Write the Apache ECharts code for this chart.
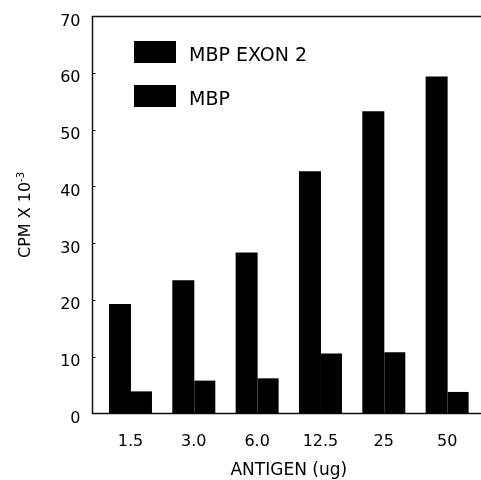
<!DOCTYPE html>
<html><head><meta charset="utf-8">
<script src="https://cdn.jsdelivr.net/npm/echarts@6/dist/echarts.min.js"></script>
<style>html,body{margin:0;padding:0;background:#fff}#c{width:481px;height:480px}</style>
</head><body><div id="c"></div>
<script>
const categories = ['1.5', '3.0', '6.0', '12.5', '25', '50'];
const mbpExon2 = [19.3, 23.5, 28.4, 42.7, 53.3, 59.4];
const mbp = [3.9, 5.8, 6.2, 10.6, 10.8, 3.8];
const yTicks = [0, 10, 20, 30, 40, 50, 60, 70];

const font = 'DejaVu Sans, Liberation Sans, sans-serif';
const chart = echarts.init(document.getElementById('c'), null, {renderer: 'canvas'});
chart.setOption({
  animation: false,
  backgroundColor: '#fff',
  textStyle: {fontFamily: font, color: '#000'},
  grid: [
    {left: 92.5, top: 16.5, width: 395, bottom: 66.5, show: true, borderColor: '#111', borderWidth: 1.5,
     backgroundColor: 'transparent', outerBoundsMode: 'none', containLabel: false},
    {left: 98.8, top: 16.5, width: 380, bottom: 66.5, outerBoundsMode: 'none', containLabel: false}
  ],
  xAxis: [
    {gridIndex: 0, type: 'value', min: 0, max: 1, show: false},
    {gridIndex: 1, type: 'category', data: categories,
     axisLine: {show: false}, axisTick: {show: false},
     axisLabel: {fontSize: 16, color: '#000', margin: 20, fontFamily: font},
     name: 'ANTIGEN (ug)', nameLocation: 'middle', nameGap: 49,
     nameTextStyle: {fontSize: 17, color: '#000', fontFamily: font}}
  ],
  yAxis: [
    {gridIndex: 0, type: 'value', min: 0, max: 70, interval: 10,
     axisLine: {show: false},
     axisTick: {show: true, inside: true, length: 3, lineStyle: {color: '#111', width: 1}},
     splitLine: {show: false},
     axisLabel: {color: '#000', margin: 12, fontFamily: font,
       formatter: v => yTicks.includes(v) ? '{t|' + v + '}' : '',
       rich: {t: {fontSize: 16, color: '#000', fontFamily: font, padding: [10, 0, 0, 0]}}},
     name: '{a|CPM X 10}{s|-3}', nameLocation: 'middle', nameGap: 58,
     nameTextStyle: {fontFamily: font,
       rich: {a: {fontSize: 16, color: '#000', fontFamily: font},
              s: {fontSize: 10, color: '#000', fontFamily: font, verticalAlign: 'top', padding: [0, 0, 8, 0]}}}},
    {gridIndex: 1, type: 'value', min: 0, max: 70, interval: 10, show: false}
  ],
  legend: {
    orient: 'vertical', left: 134, top: 41, itemWidth: 42, itemHeight: 22, itemGap: 19,
    icon: 'rect', padding: 0,
    formatter: name => '{t|' + name + '}',
    textStyle: {fontSize: 19, color: '#000', fontFamily: font, padding: [0, 0, 0, 8],
      rich: {t: {fontSize: 19, color: '#000', fontFamily: font, padding: [9, 0, 0, 0]}}},
    data: ['MBP EXON 2', 'MBP']
  },
  series: [
    {name: 'MBP EXON 2', type: 'bar', xAxisIndex: 1, yAxisIndex: 1, data: mbpExon2,
     barWidth: 22, barGap: '0%', itemStyle: {color: '#000'}},
    {name: 'MBP', type: 'bar', xAxisIndex: 1, yAxisIndex: 1, data: mbp,
     barWidth: 21, barGap: '0%', itemStyle: {color: '#000'}}
  ]
});
</script></body></html>
